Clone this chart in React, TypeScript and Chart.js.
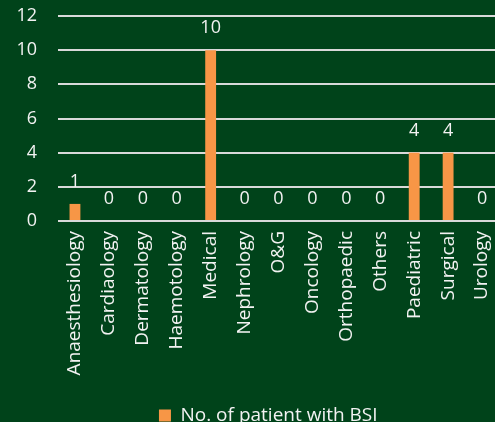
import React, { useEffect, useRef } from "react";
import { Chart, registerables } from "chart.js";

Chart.register(...registerables);

const categories = [
  "Anaesthesiology",
  "Cardiaology",
  "Dermatology",
  "Haemotology",
  "Medical",
  "Nephrology",
  "O&G",
  "Oncology",
  "Orthopaedic",
  "Others",
  "Paediatric",
  "Surgical",
  "Urology",
];
const patientsWithBSI = [1, 0, 0, 0, 10, 0, 0, 0, 0, 0, 4, 4, 0];
const yTicks = [0, 2, 4, 6, 8, 10, 12];
const seriesName = "No. of patient with BSI";

const BG = "#00431a";
const TEXT = "#f2f2f2";
const FONT = "'Open Sans', sans-serif";

const valueLabels = {
  id: "valueLabels",
  afterDatasetsDraw(chart: any) {
    const ctx = chart.ctx;
    const meta = chart.getDatasetMeta(0);
    const data = chart.data.datasets[0].data;
    ctx.save();
    ctx.fillStyle = TEXT;
    ctx.font = "18px " + FONT;
    ctx.textAlign = "center";
    ctx.textBaseline = "alphabetic";
    meta.data.forEach((el: any, i: number) => {
      ctx.fillText(String(data[i]), el.x, el.y - 17);
    });
    ctx.restore();
  },
};

const legendShift = {
  id: "legendShift",
  afterLayout(chart: any) {
    if (chart.legend) chart.legend.left = 37.5;
  },
};

export default function App() {
  const ref = useRef<HTMLCanvasElement>(null);
  useEffect(() => {
    document.body.style.background = BG;
    const chart = new Chart(ref.current!, {
      type: "bar",
      data: {
        labels: categories,
        datasets: [
          {
            label: seriesName,
            data: patientsWithBSI,
            backgroundColor: "#f79646",
            borderWidth: 0,
            categoryPercentage: 1,
            barPercentage: 0.32,
          },
        ],
      },
      options: {
        animation: false,
        responsive: false,
        layout: { padding: { left: 16, top: 16, right: 0, bottom: -13 } },
        scales: {
          x: {
            grid: { display: false, drawTicks: false },
            border: { display: false },
            ticks: {
              color: TEXT,
              font: { family: FONT, size: 19 },
              minRotation: 90,
              maxRotation: 90,
              padding: 10,
              autoSkip: false,
            },
            afterFit: (s: any) => {
              s.height = 185;
              s.paddingLeft = 0;
              s.paddingRight = 0;
            },
          },
          y: {
            min: 0,
            max: 12,
            afterBuildTicks: (s: any) => {
              s.ticks = yTicks.map((v) => ({ value: v }));
            },
            grid: { display: true, color: "#d9d9d9", lineWidth: 2, drawTicks: false },
            border: { display: false },
            ticks: {
              color: TEXT,
              font: { family: FONT, size: 18 },
              padding: 21,
            },
            afterFit: (s: any) => {
              s.width = 42;
              s.paddingTop = 0;
              s.paddingBottom = 0;
            },
          },
        },
        plugins: {
          legend: {
            position: "bottom",
            labels: {
              color: TEXT,
              font: { family: FONT, size: 19 },
              boxWidth: 12,
              boxHeight: 12,
              padding: 0,
            },
          },
          tooltip: { enabled: false },
        },
      },
      plugins: [valueLabels, legendShift],
    });
    return () => chart.destroy();
  }, []);
  return (
    <div
      style={{
        position: "fixed",
        left: 0,
        top: 0,
        width: 499,
        height: 422,
        background: BG,
      }}
    >
      <canvas ref={ref} width={499} height={422} style={{ display: "block" }} />
    </div>
  );
}
